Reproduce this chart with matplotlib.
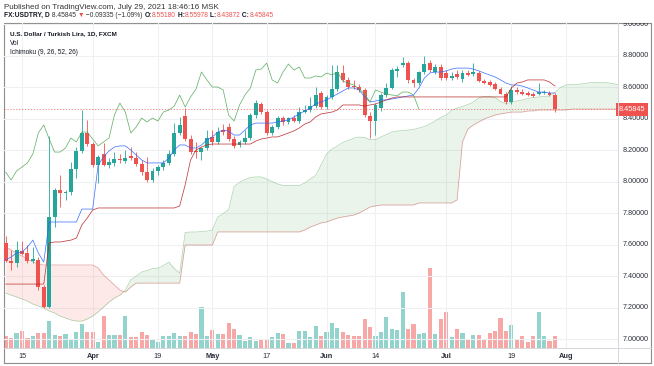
import numpy as np
import matplotlib
matplotlib.use("Agg")
import matplotlib.pyplot as plt
from matplotlib.patches import Rectangle
from matplotlib.lines import Line2D
from matplotlib.transforms import blended_transform_factory, Bbox, TransformedBbox

plt.rcParams['font.family'] = ['Liberation Sans', 'DejaVu Sans']

# bars are trading days: 0 = Mar 15 2021, -3 = Mar 10, 98 = Jul 29
first_bar = -3

opens = [7.610, 7.495, 7.483, 7.559, 7.546, 7.495, 7.502, 7.330, 7.203, 7.775,
         7.946, 7.927, 7.933, 8.079, 8.194, 8.308, 8.238, 8.105, 8.175, 8.105,
         8.118, 8.143, 8.130, 8.162, 8.149, 8.111, 8.060, 8.010, 8.067, 8.092,
         8.118, 8.175, 8.308, 8.416, 8.270, 8.194, 8.187, 8.213, 8.283, 8.251,
         8.327, 8.346, 8.270, 8.232, 8.251, 8.276, 8.422, 8.492, 8.441, 8.308,
         8.346, 8.403, 8.378, 8.403, 8.384, 8.441, 8.454, 8.479, 8.562, 8.473,
         8.537, 8.587, 8.689, 8.645, 8.606, 8.600, 8.581, 8.416, 8.384, 8.467,
         8.549, 8.594, 8.702, 8.740, 8.752, 8.645, 8.625, 8.695, 8.752, 8.695,
         8.727, 8.689, 8.657, 8.683, 8.651, 8.689, 8.683, 8.689, 8.638, 8.632,
         8.619, 8.587, 8.556, 8.505, 8.581, 8.568, 8.562, 8.556, 8.556, 8.562,
         8.562, 8.5518]
highs = [7.654, 7.565, 7.622, 7.622, 7.597, 7.584, 7.521, 7.343, 8.289, 7.959,
         8.041, 7.946, 8.124, 8.219, 8.454, 8.391, 8.251, 8.168, 8.245, 8.149,
         8.187, 8.175, 8.200, 8.219, 8.187, 8.137, 8.156, 8.086, 8.105, 8.137,
         8.200, 8.371, 8.410, 8.467, 8.295, 8.251, 8.219, 8.327, 8.327, 8.346,
         8.365, 8.371, 8.289, 8.264, 8.327, 8.435, 8.518, 8.505, 8.454, 8.359,
         8.416, 8.416, 8.410, 8.422, 8.473, 8.486, 8.537, 8.600, 8.575, 8.549,
         8.740, 8.740, 8.740, 8.664, 8.645, 8.619, 8.594, 8.441, 8.498, 8.562,
         8.625, 8.721, 8.733, 8.791, 8.765, 8.657, 8.702, 8.797, 8.772, 8.746,
         8.746, 8.708, 8.695, 8.708, 8.708, 8.708, 8.752, 8.702, 8.651, 8.645,
         8.632, 8.600, 8.568, 8.606, 8.600, 8.587, 8.575, 8.568, 8.625, 8.581,
         8.575, 8.5598]
lows = [7.489, 7.438, 7.457, 7.533, 7.483, 7.483, 7.311, 7.197, 7.197, 7.711,
        7.838, 7.883, 7.914, 8.022, 8.181, 8.226, 8.092, 7.990, 8.098, 8.086,
        8.098, 8.118, 8.118, 8.137, 8.098, 8.041, 7.997, 7.997, 8.041, 8.073,
        8.105, 8.162, 8.295, 8.257, 8.175, 8.149, 8.137, 8.200, 8.232, 8.238,
        8.295, 8.257, 8.213, 8.219, 8.238, 8.264, 8.403, 8.429, 8.295, 8.295,
        8.333, 8.359, 8.365, 8.378, 8.371, 8.435, 8.441, 8.467, 8.460, 8.460,
        8.524, 8.575, 8.632, 8.587, 8.587, 8.568, 8.410, 8.276, 8.295, 8.448,
        8.537, 8.587, 8.664, 8.727, 8.625, 8.600, 8.613, 8.683, 8.695, 8.683,
        8.645, 8.645, 8.645, 8.651, 8.632, 8.670, 8.670, 8.632, 8.619, 8.606,
        8.581, 8.556, 8.492, 8.492, 8.556, 8.549, 8.543, 8.537, 8.549, 8.556,
        8.543, 8.4387]
closes = [7.495, 7.483, 7.565, 7.540, 7.495, 7.508, 7.330, 7.203, 7.775, 7.946,
          7.927, 7.933, 8.079, 8.194, 8.308, 8.238, 8.105, 8.156, 8.105, 8.124,
          8.143, 8.137, 8.149, 8.149, 8.111, 8.060, 8.010, 8.067, 8.092, 8.118,
          8.175, 8.308, 8.359, 8.270, 8.187, 8.187, 8.213, 8.276, 8.251, 8.314,
          8.314, 8.270, 8.226, 8.251, 8.276, 8.422, 8.498, 8.441, 8.308, 8.346,
          8.403, 8.378, 8.403, 8.384, 8.441, 8.454, 8.479, 8.549, 8.473, 8.537,
          8.587, 8.695, 8.645, 8.600, 8.600, 8.581, 8.422, 8.384, 8.486, 8.549,
          8.594, 8.708, 8.714, 8.752, 8.645, 8.625, 8.695, 8.746, 8.708, 8.727,
          8.657, 8.657, 8.670, 8.664, 8.689, 8.676, 8.695, 8.638, 8.625, 8.613,
          8.587, 8.556, 8.505, 8.581, 8.568, 8.556, 8.549, 8.546, 8.568, 8.568,
          8.549, 8.45845]
volumes = [12, 10, 15, 17, 10, 12, 15, 15, 27, 13,
           12, 14, 9, 16, 24, 16, 16, 6, 32, 13,
           13, 13, 32, 11, 11, 16, 13, 9, 6, 12,
           12, 15, 12, 12, 16, 14, 41, 12, 18, 14,
           14, 25, 19, 13, 7, 11, 7, 8, 8, 11,
           15, 14, 5, 5, 17, 17, 11, 22, 12, 16,
           25, 20, 16, 13, 12, 12, 29, 21, 12, 16,
           31, 19, 18, 56, 19, 24, 14, 15, 80, 14,
           29, 36, 11, 19, 15, 9, 13, 13, 9, 15,
           17, 30, 17, 23, 9, 12, 6, 12, 36, 12,
           7, 12]

# Ichimoku lines
tenkan = [7.502, 7.521, 7.546, 7.552, 7.584, 7.628, 7.546, 7.489, 7.743, 7.743,
          7.743, 7.743, 7.743, 7.743, 7.825, 7.825, 7.825, 8.105, 8.156, 8.194,
          8.219, 8.226, 8.226, 8.200, 8.168, 8.137, 8.118, 8.118, 8.118, 8.118,
          8.149, 8.200, 8.232, 8.232, 8.213, 8.213, 8.232, 8.264, 8.283, 8.314,
          8.327, 8.320, 8.295, 8.295, 8.327, 8.359, 8.371, 8.371, 8.371, 8.371,
          8.378, 8.384, 8.391, 8.410, 8.429, 8.448, 8.467, 8.492, 8.505, 8.518,
          8.537, 8.556, 8.575, 8.594, 8.594, 8.581, 8.537, 8.505, 8.511, 8.518,
          8.518, 8.524, 8.530, 8.537, 8.543, 8.549, 8.594, 8.657, 8.689, 8.695,
          8.695, 8.702, 8.714, 8.720, 8.720, 8.720, 8.714, 8.702, 8.689, 8.676,
          8.664, 8.645, 8.625, 8.613, 8.613, 8.606, 8.594, 8.581, 8.568, 8.568,
          8.562, 8.562]
kijun = [7.349, 7.349, 7.349, 7.349, 7.349, 7.349, 7.349, 7.349, 7.610, 7.616,
         7.616, 7.622, 7.628, 7.641, 7.724, 7.768, 7.819, 7.832, 7.832, 7.832,
         7.832, 7.832, 7.832, 7.832, 7.832, 7.832, 7.832, 7.832, 7.832, 7.832,
         7.832, 7.832, 7.845, 7.978, 8.137, 8.200, 8.219, 8.232, 8.238, 8.238,
         8.238, 8.238, 8.238, 8.238, 8.238, 8.238, 8.257, 8.270, 8.276, 8.283,
         8.283, 8.295, 8.308, 8.321, 8.340, 8.365, 8.378, 8.410, 8.429, 8.435,
         8.441, 8.454, 8.486, 8.486, 8.486, 8.486, 8.479, 8.486, 8.492, 8.505,
         8.518, 8.530, 8.537, 8.537, 8.537, 8.537, 8.537, 8.537, 8.537, 8.537,
         8.537, 8.537, 8.537, 8.537, 8.537, 8.537, 8.537, 8.537, 8.537, 8.537,
         8.537, 8.537, 8.537, 8.594, 8.625, 8.632, 8.645, 8.645, 8.645, 8.645,
         8.632, 8.606]
# leading span A for bars -3..21 (older part comes from before the window)
span_a_early = [7.292, 7.279, 7.267, 7.254, 7.241, 7.222, 7.210, 7.197, 7.178, 7.165,
                7.146, 7.133, 7.121, 7.114, 7.114, 7.127, 7.146, 7.172, 7.203, 7.235,
                7.260, 7.279, 7.311, 7.375, 7.400]
# leading span B for bars -3..110
span_b = [7.584, 7.565, 7.546, 7.527, 7.508, 7.489, 7.476, 7.470, 7.470, 7.470,
          7.470, 7.470, 7.470, 7.470, 7.470, 7.470, 7.470, 7.451, 7.406, 7.375,
          7.343, 7.311, 7.298, 7.330, 7.355, 7.355, 7.355, 7.355, 7.355, 7.355,
          7.355, 7.355, 7.355, 7.597, 7.597, 7.597, 7.597, 7.597, 7.597, 7.680,
          7.680, 7.680, 7.680, 7.680, 7.680, 7.680, 7.680, 7.680, 7.680, 7.680,
          7.680, 7.680, 7.680, 7.680, 7.680, 7.692, 7.711, 7.724, 7.737, 7.743,
          7.756, 7.768, 7.775, 7.781, 7.787, 7.800, 7.819, 7.838, 7.845, 7.851,
          7.851, 7.851, 7.851, 7.851, 7.851, 7.851, 7.864, 7.864, 7.864, 7.864,
          7.864, 7.864, 7.864, 7.883, 8.251, 8.333, 8.359, 8.378, 8.397, 8.410,
          8.422, 8.429, 8.435, 8.441, 8.441, 8.441, 8.448, 8.448, 8.454, 8.454,
          8.454, 8.454, 8.454, 8.454, 8.460, 8.460, 8.460, 8.460, 8.460, 8.460,
          8.460, 8.460, 8.460, 8.460]
shift = 25  # TradingView plots the 26 displacement as 25 bars

tick_pos = [0, 13, 25, 35, 45, 56, 65, 78, 90, 100]
tick_text = ['15', 'Apr', '19', 'May', '17', 'Jun', '14', 'Jul', '19', 'Aug']
months = ['Apr', 'May', 'Jun', 'Jul', 'Aug']
price_ticks = [7.0, 7.2, 7.4, 7.6, 7.8, 8.0, 8.2, 8.4, 8.6, 8.8, 9.0]

W, H = 654, 366
def fx(px):
    return px / W
def fy(py):
    return 1 - py / H

fig = plt.figure(figsize=(W / 100, H / 100), dpi=100)
ax = fig.add_axes([fx(4), fy(348), fx(618) - fx(4), fy(23) - fy(348)])
axv = ax.twinx()
axv.set_zorder(0)
ax.set_zorder(1)
ax.patch.set_visible(False)

O = np.array(opens); Hh = np.array(highs); L = np.array(lows); C = np.array(closes)
x = np.arange(first_bar, first_bar + len(C))
up = C >= O
body_col = np.where(up, '#26a69a', '#ef5350')
vol_col = np.where(up, '#92d3cc', '#f7a8a6')

# volume, own scale at the bottom of the pane
axv.bar(x, volumes, width=0.76, color=vol_col, lw=0)
axv.set_ylim(0, max(volumes) * 4.06)
axv.set_yticks([])
for s in axv.spines.values():
    s.set_visible(False)

# cloud
tk = np.array(tenkan); kj = np.array(kijun)
span_a = np.concatenate([span_a_early, (tk + kj)[:len(span_b) - len(span_a_early)] / 2])
sb = np.array(span_b)
xc = np.arange(first_bar, first_bar + len(sb))
ax.fill_between(xc, span_a, sb, where=span_a >= sb, interpolate=True, color='#43a047', alpha=0.11, lw=0, zorder=1)
ax.fill_between(xc, span_a, sb, where=span_a < sb, interpolate=True, color='#f44336', alpha=0.11, lw=0, zorder=1)
ax.plot(xc, span_a, color='#43a047', lw=0.5, alpha=0.45, zorder=1.5)
ax.plot(xc, sb, color='#c62828', lw=0.5, alpha=0.45, zorder=1.5)

# candles
ax.vlines(x, L, Hh, colors=body_col, lw=0.6, zorder=2)
ax.bar(x, np.maximum(np.abs(C - O), 0.004), bottom=np.minimum(O, C), width=0.72,
       color=body_col, lw=0, zorder=2.1)

# conversion, base and lagging lines
ax.plot(x, tk, color='#2962ff', lw=0.55, alpha=0.85, zorder=3)
ax.plot(x, kj, color='#b71c1c', lw=0.55, alpha=0.85, zorder=3)
ax.plot(x[:-shift], C[shift:], color='#43a047', lw=0.55, alpha=0.8, zorder=3)

# last price line
ax.axhline(C[-1], color='#ef5350', lw=0.6, ls=(0, (1.5, 2)), alpha=0.8, zorder=2.5)

ax.set_xlim(-3.31, 109.6)
ax.set_ylim(6.943, 9.0064)
ax.set_yticks(price_ticks)
ax.set_xticks(tick_pos)
ax.set_xticklabels(tick_text)
ax.tick_params(axis='y', length=0, labelleft=False, labelright=False)
ax.tick_params(axis='x', length=0, pad=3.5, labelsize=5.3, labelcolor='#2a2e39')
for lbl in ax.get_xticklabels():
    if lbl.get_text() in months:
        lbl.set_fontweight('bold')
ax.grid(color='#eef0f4', lw=0.8, zorder=0)
ax.set_axisbelow(True)
for s in ax.spines.values():
    s.set_visible(False)

# price scale on the right, clipped by the frame
tr = blended_transform_factory(ax.transAxes, ax.transData)
clip = TransformedBbox(Bbox([[0, fy(363)], [1, fy(23)]]), fig.transFigure)
for p in price_ticks:
    t = ax.text(1.0075, p, f'{p:.5f}', transform=tr, va='center', ha='left',
                fontsize=5.2, color='#2a2e39', clip_on=False)
    t.set_clip_box(clip)
    t.set_clip_on(True)
ax.text(1.0015, C[-1], f'{C[-1]:.5f}', transform=tr, va='center', ha='left',
        fontsize=5.2, color='white', clip_on=False, zorder=5,
        bbox=dict(boxstyle='square,pad=0.4', fc='#ef5350', ec='none'))

# frame and separators
fig.add_artist(Rectangle((fx(4), fy(363)), fx(651) - fx(4), fy(23) - fy(363),
                         transform=fig.transFigure, fill=False, ec='#8c8c8c', lw=0.8))
fig.add_artist(Line2D([fx(618), fx(618)], [fy(363), fy(23)], transform=fig.transFigure,
                      color='#d5d7dc', lw=0.7))
fig.add_artist(Line2D([fx(4), fx(651)], [fy(348), fy(348)], transform=fig.transFigure,
                      color='#d5d7dc', lw=0.7))

# header
dark = '#131722'
red = '#ef5350'
fig.text(fx(4), fy(9), 'Published on TradingView.com, July 29, 2021 18:46:16 MSK',
         fontsize=5.8, color='#333333', va='baseline')
pieces = [('FX:USDTRY, D', dark, 'bold'), (' 8.45845 ', '#333333', 'normal'),
          ('\u25bc', red, 'normal'), (' \u22120.09335 (\u22121.09%) ', '#333333', 'normal'),
          ('O:', dark, 'bold'), ('8.55180', red, 'normal'), (' H:', dark, 'bold'),
          ('8.55978', red, 'normal'), (' L:', dark, 'bold'), ('8.43872', red, 'normal'),
          (' C:', dark, 'bold'), ('8.45845', red, 'normal')]
prev = fig.text(fx(4), fy(19), pieces[0][0], fontsize=4.8, color=pieces[0][1],
                fontweight=pieces[0][2], va='bottom')
for s, c, w in pieces[1:]:
    prev = ax.annotate(s, xy=(1, 0), xycoords=prev, va='bottom', ha='left',
                       fontsize=4.8, color=c, fontweight=w, annotation_clip=False)

fig.text(fx(10), fy(35), 'U.S. Dollar / Turkish Lira, 1D, FXCM', fontsize=4.6,
         color=dark, fontweight='bold', va='baseline')
fig.text(fx(10), fy(45), 'Vol', fontsize=4.7, color=dark, va='baseline')
fig.text(fx(10), fy(54), 'Ichimoku (9, 26, 52, 26)', fontsize=4.7, color=dark, va='baseline')

fig.savefig('out.png', dpi=100, facecolor='white')
